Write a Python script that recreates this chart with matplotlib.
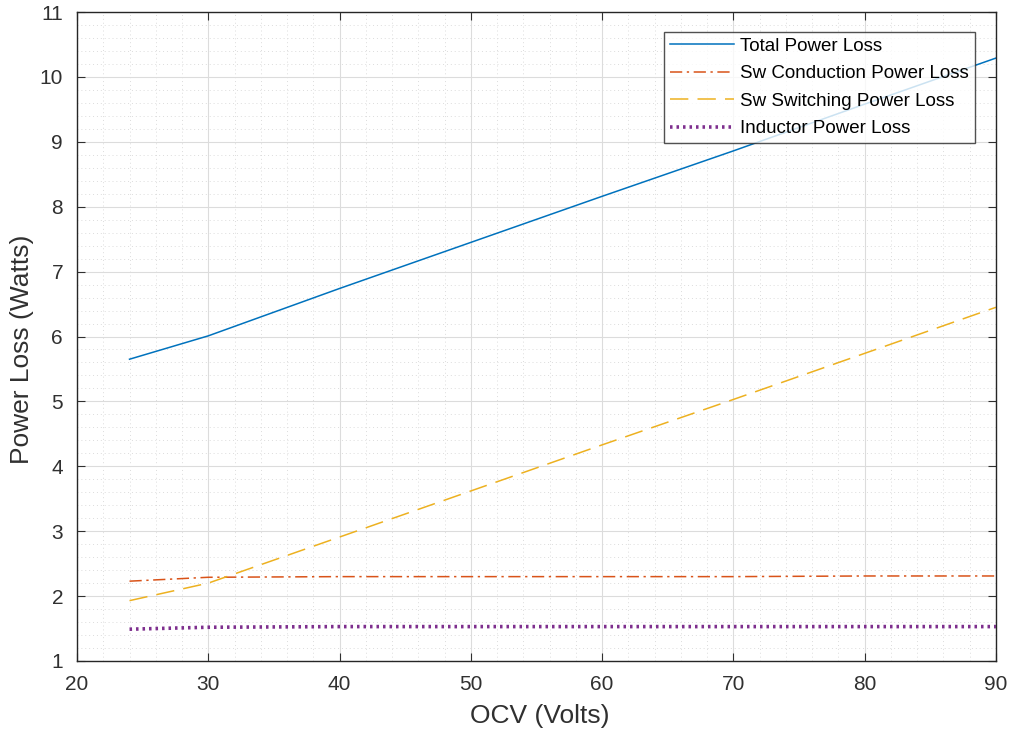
import numpy as np
from matplotlib import pyplot as plt
from matplotlib.ticker import MultipleLocator

# open-circuit voltage sweep (V)
ocv = [24, 30, 40, 50, 60, 70, 80, 90]

# loss components (W)
sw_conduction = [2.23, 2.29, 2.30, 2.30, 2.30, 2.30, 2.31, 2.31]
sw_switching = [1.93, 2.20, 2.91, 3.62, 4.33, 5.03, 5.74, 6.45]
inductor = [1.49, 1.52, 1.53, 1.53, 1.53, 1.53, 1.53, 1.53]
total = [5.65, 6.01, 6.74, 7.45, 8.16, 8.86, 9.58, 10.29]

plt.rcParams['font.family'] = ['Liberation Sans', 'DejaVu Sans']

fig = plt.figure(figsize=(10.12, 7.32), dpi=100)
ax = fig.add_axes([0.0761, 0.097, 0.908, 0.8866])

ax.plot(ocv, total, color=(0, 0.447, 0.741), lw=1.1, label='Total Power Loss')
ax.plot(ocv, sw_conduction, color=(0.85, 0.325, 0.098), lw=1.1,
        linestyle=(0, (8, 3, 1.5, 3)), label='Sw Conduction Power Loss')
ax.plot(ocv, sw_switching, color=(0.929, 0.694, 0.125), lw=1.1,
        linestyle=(0, (12, 6)), label='Sw Switching Power Loss')
ax.plot(ocv, inductor, color=(0.494, 0.184, 0.556), lw=2.6,
        linestyle=(0, (0.7, 1.1)), label='Inductor Power Loss')

ax.set_xlim(20, 90)
ax.set_ylim(1, 11)
ax.xaxis.set_major_locator(MultipleLocator(10))
ax.xaxis.set_minor_locator(MultipleLocator(2))
ax.yaxis.set_major_locator(MultipleLocator(1))
ax.yaxis.set_minor_locator(MultipleLocator(0.2))

ax.grid(which='major', color='#dcdcdc', lw=0.8, linestyle='-')
ax.grid(which='minor', color='#dcdcdc', lw=0.7, linestyle=(0, (1, 3)))
ax.set_axisbelow(True)

ax.tick_params(which='major', direction='in', length=6, top=True, right=True,
               labelsize=15, colors='#303030', pad=10)
ax.tick_params(which='minor', direction='in', length=0, top=True, right=True)
for s in ax.spines.values():
    s.set_color('#262626')
    s.set_linewidth(1)

ax.set_xlabel('OCV (Volts)', fontsize=19, color='#303030')
ax.set_ylabel('Power Loss (Watts)', fontsize=19, color='#303030')
ax.xaxis.set_label_coords(0.504, -0.066)
ax.yaxis.set_label_coords(-0.047, 0.481)

leg = ax.legend(loc='upper right', bbox_to_anchor=(0.977, 0.969), fontsize=13.5,
                frameon=True, fancybox=False, edgecolor='#262626',
                handlelength=3.4, handletextpad=0.35, borderpad=0.3,
                labelspacing=0.55, borderaxespad=0)
leg.get_frame().set_linewidth(1)

plt.savefig('out.png', dpi=100)
plt.close()
